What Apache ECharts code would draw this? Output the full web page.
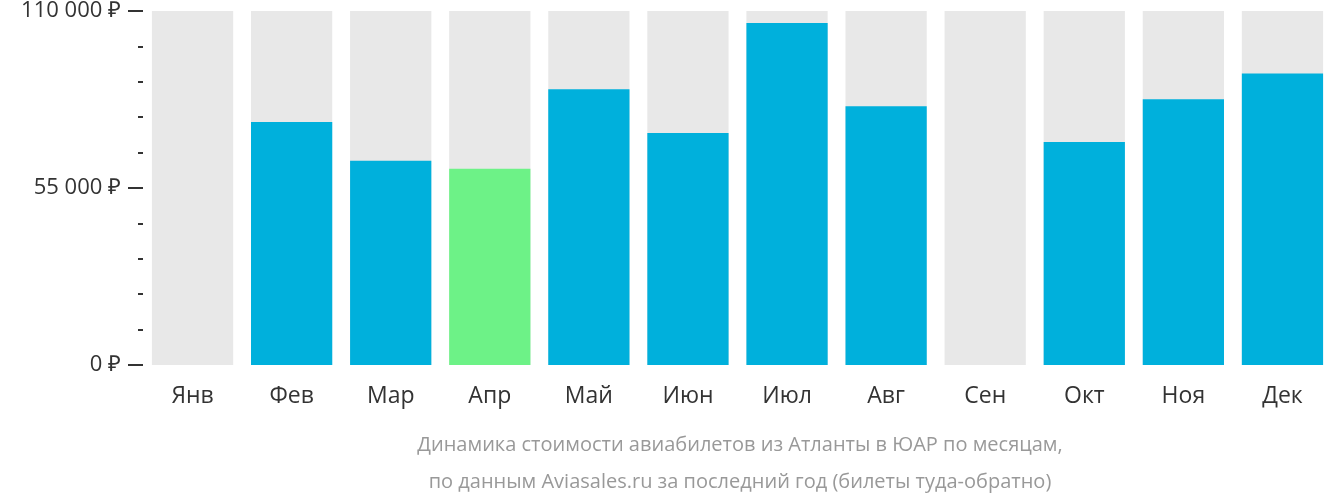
<!DOCTYPE html>
<html><head><meta charset="utf-8">
<script src="https://cdn.jsdelivr.net/npm/echarts@6/dist/echarts.min.js"></script>
<style>html,body{margin:0;background:#fff}#c{width:1332px;height:502px}</style>
</head><body><div id="c"></div>
<script>
const months = ['Янв','Фев','Мар','Апр','Май','Июн','Июл','Авг','Сен','Окт','Ноя','Дек'];
const prices = [null, 75500, 63500, 61000, 85700, 72100, 106300, 80400, null, 69300, 82600, 90600];
const cheapest = 3;
const yMax = 110000;

function money(v) {
  return String(v).replace(/\B(?=(\d{3})+(?!\d))/g, ' ') + ' ₽';
}

const chart = echarts.init(document.getElementById('c'));
chart.setOption({
  animation: false,
  textStyle: { fontFamily: "'Open Sans',sans-serif" },
  grid: { left: 143, width: 1200, top: 8, bottom: 137 },
  xAxis: {
    type: 'category', data: months,
    axisLine: { show: false }, axisTick: { show: false },
    axisLabel: { color: '#333', fontSize: 23, margin: 20 }
  },
  yAxis: {
    type: 'value', min: 0, max: yMax, interval: 55000,
    axisLine: { show: false },
    axisTick: { show: true, length: 15, lineStyle: { color: '#333', width: 2 } },
    minorTick: { show: true, splitNumber: 5, length: 5, lineStyle: { color: '#333', width: 2 } },
    splitLine: { show: false },
    axisLabel: { color: '#333', fontSize: 22, margin: 22, formatter: money }
  },
  series: [
    { type: 'bar', data: months.map(() => yMax), barCategoryGap: '18%', barGap: '-100%',
      itemStyle: { color: '#e8e8e8' }, silent: true },
    { type: 'bar', data: prices.map((v, i) => ({ value: v, itemStyle: { color: i === cheapest ? '#6df287' : '#00b0dc' } })) }
  ],
  graphic: [{
    type: 'text', x: 740, y: 427,
    style: { text: 'Динамика стоимости авиабилетов из Атланты в ЮАР по месяцам,\nпо данным Aviasales.ru за последний год (билеты туда-обратно)',
      fill: '#999', fontSize: 20, lineHeight: 37, align: 'center', fontFamily: "'Open Sans',sans-serif" }
  }]
});
</script></body></html>
